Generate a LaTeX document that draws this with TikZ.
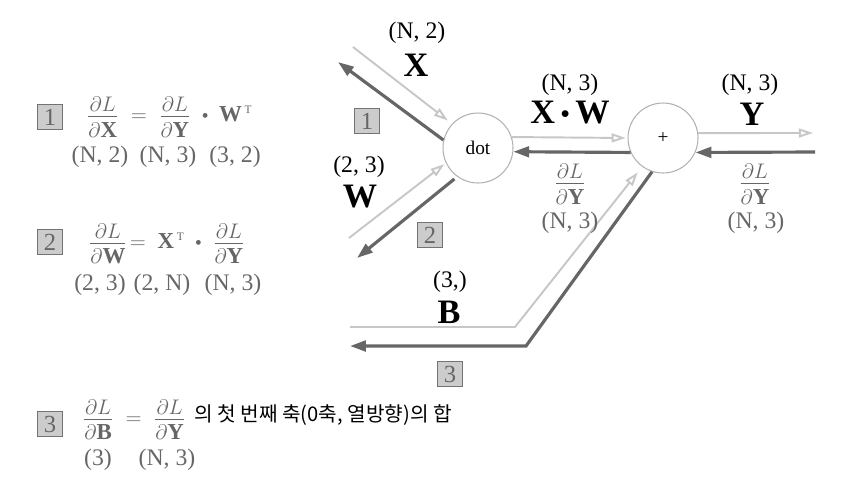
\documentclass[tikz,border=0pt]{standalone}
\usepackage{amsmath}
\usepackage{fontspec}
\setmainfont{Liberation Serif}
\newfontfamily\krfont{Noto Sans CJK KR}
\usetikzlibrary{arrows.meta}

\newcommand{\mdot}{\mathbin{\vcenter{\hbox{$\scriptscriptstyle\bullet$}}}}
\newcommand{\gfrac}[2]{{\textstyle\frac{\displaystyle\partial #1\rule[-0.15em]{0pt}{0pt}}{\displaystyle\partial\mathbf{#2}\rule{0pt}{0.85em}}}}
\newcommand{\tr}{^{\,\scriptscriptstyle\mathrm{T}}}

\begin{document}
\begin{tikzpicture}[x=0.02cm, y=-0.02cm,
  fwd/.style={black!22, line width=1.1pt, -{Triangle[open, length=8pt, width=5pt]}},
  bwd/.style={black!60, line width=1.8pt, -{Triangle[length=9pt, width=6pt]}},
  op/.style={circle, draw=black!30, line width=0.6pt, minimum size=1.4cm, inner sep=0pt, font=\fontsize{11}{13}\selectfont},
  stepno/.style={draw=black!55, fill=black!20, line width=1.1pt, minimum size=0.5cm, inner sep=0pt, text=black!60, font=\fontsize{14}{14}\selectfont},
  dims/.style={font=\fontsize{13.5}{15}\selectfont},
  gdims/.style={dims, text=black!60},
  var/.style={font=\fontsize{19.5}{21}\selectfont\bfseries},
  formula/.style={anchor=west, inner sep=0pt, text=black!60, font=\fontsize{13}{15}\selectfont}]
  \useasboundingbox (0,0) rectangle (854,491);

  % graph
  \node[op] (dot) at (478,148) {dot};
  \node[op] (plus) at (663,138) {+};
  \coordinate (xin) at (353,47);   \coordinate (xout) at (338,62);
  \coordinate (win) at (349,238);  \coordinate (wout) at (357,258);
  \coordinate (yout) at (813,133); \coordinate (yin) at (815,152);
  \coordinate (bin) at (350,327);  \coordinate (bbend) at (515,327);
  \coordinate (bout) at (350,346); \coordinate (gbend) at (526,346);

  \draw[fwd, shorten >=3pt] (xin) -- (dot.137);
  \draw[fwd, shorten >=1pt] (win) -- (dot.205);
  \draw[fwd, shorten >=1pt] (dot.18) -- (plus.west);
  \draw[fwd] (plus.8) -- (yout);
  \draw[fwd, shorten >=4pt] (bin) -- (bbend) -- (plus.234);
  \draw[bwd] (dot.167) -- (xout);
  \draw[bwd, shorten <=2pt] (dot.234) -- (wout);
  \draw[bwd] (plus.204) -- (dot.354);
  \draw[bwd] (yin) -- (plus.336);
  \draw[bwd] (plus.252) -- (gbend) -- (bout);

  % labels on the graph
  \node[dims] (xdim) at (417,33) {(N, 2)};   \node[var] (xlbl) at (416,65) {X};
  \node[dims] (wdim) at (359,167) {(2, 3)};  \node[var] (wlbl) at (360,197) {W};
  \node[dims] (xwdim) at (570,85) {(N, 3)};  \node[var] (xwlbl) at (570,113) {X\,$\mdot$\,W};
  \node[dims] (ydim) at (750,85) {(N, 3)};   \node[var] (ylbl) at (752,114) {Y};
  \node[dims] (bdim) at (450,282) {(3,)};    \node[var] (blbl) at (449,312) {B};
  \node[formula, anchor=center] (gxw) at (570,184) {$\gfrac{L}{Y}$};
  \node[gdims] (gxwdim) at (570,223) {(N, 3)};
  \node[formula, anchor=center] (gy) at (755,184) {$\gfrac{L}{Y}$};
  \node[gdims] (gydim) at (756,223) {(N, 3)};
  \node[stepno] (s1) at (367,121) {1};
  \node[stepno] (s2) at (430,235) {2};
  \node[stepno] (s3) at (450,374) {3};

  % formulas
  \node[stepno] (f1) at (50,117) {1};
  \node[formula] (f1eq) at (86,117) {$\gfrac{L}{X} \;=\; \gfrac{L}{Y} \;\mdot\; \mathbf{W}\tr$};
  \node[gdims] (f1a) at (100,157) {(N, 2)};
  \node[gdims] (f1b) at (168,157) {(N, 3)};
  \node[gdims] (f1c) at (235,157) {(3, 2)};

  \node[stepno] (f2) at (50,242) {2};
  \node[formula] (f2eq) at (88,244) {$\gfrac{L}{W}\mkern-3mu = \; \mathbf{X}\tr \;\mdot\; \gfrac{L}{Y}$};
  \node[gdims] (f2a) at (100,285) {(2, 3)};
  \node[gdims] (f2b) at (162,285) {(2, N)};
  \node[gdims] (f2c) at (233,285) {(N, 3)};

  \node[stepno] (f3) at (50,424) {3};
  \node[formula] (f3eq) at (82,420) {$\gfrac{L}{B} \;=\; \gfrac{L}{Y}$};
  \node[anchor=west, inner sep=0pt, font=\krfont\fontsize{11.5}{13}\selectfont] (f3txt) at (194,415) {의 첫 번째 축(0축, 열방향)의 합};
  \node[gdims] (f3a) at (98,460) {(3)};
  \node[gdims] (f3b) at (167,460) {(N, 3)};
\end{tikzpicture}
\end{document}
